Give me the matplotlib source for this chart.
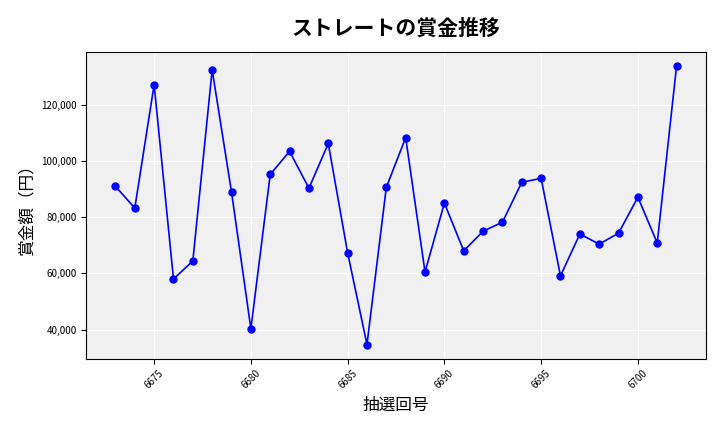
import matplotlib
matplotlib.use("Agg")
import matplotlib.pyplot as plt
from matplotlib.ticker import FuncFormatter

plt.rcParams['font.family'] = ['Noto Sans CJK JP', 'DejaVu Sans']

draws = list(range(6673, 6703))
prizes = [91000, 83200, 127100, 58000, 64400, 132400, 88900, 40300, 95200, 103400,
          90300, 106200, 67300, 34700, 90600, 108300, 60500, 85000, 68000, 75000,
          78200, 92400, 93800, 59100, 74000, 70400, 74300, 87100, 70800, 133800]

fig, ax = plt.subplots(figsize=(7.2, 4.32), dpi=100)
ax.set_facecolor('#f0f0f0')
ax.grid(True, color='white', linewidth=1)
ax.set_axisbelow(True)
ax.plot(draws, prizes, color='blue', marker='o', markersize=5, linewidth=1.2)
ax.set_title('ストレートの賞金推移', fontsize=15, fontweight='bold', pad=12)
ax.set_xlabel('抽選回号', fontsize=12)
ax.set_ylabel('賞金額（円）', fontsize=12)
ax.set_xticks(range(6675, 6701, 5))
ax.set_yticks(range(40000, 130000, 20000))
ax.yaxis.set_major_formatter(FuncFormatter(lambda v, p: f'{int(v):,}'))
ax.tick_params(axis='x', labelrotation=45, labelsize=7)
ax.tick_params(axis='y', labelsize=7)
ax.set_xlim(6671.5, 6703.5)
ax.set_ylim(29700, 138800)
fig.subplots_adjust(left=0.12, right=0.98, top=0.88, bottom=0.17)
fig.savefig('out.png')
